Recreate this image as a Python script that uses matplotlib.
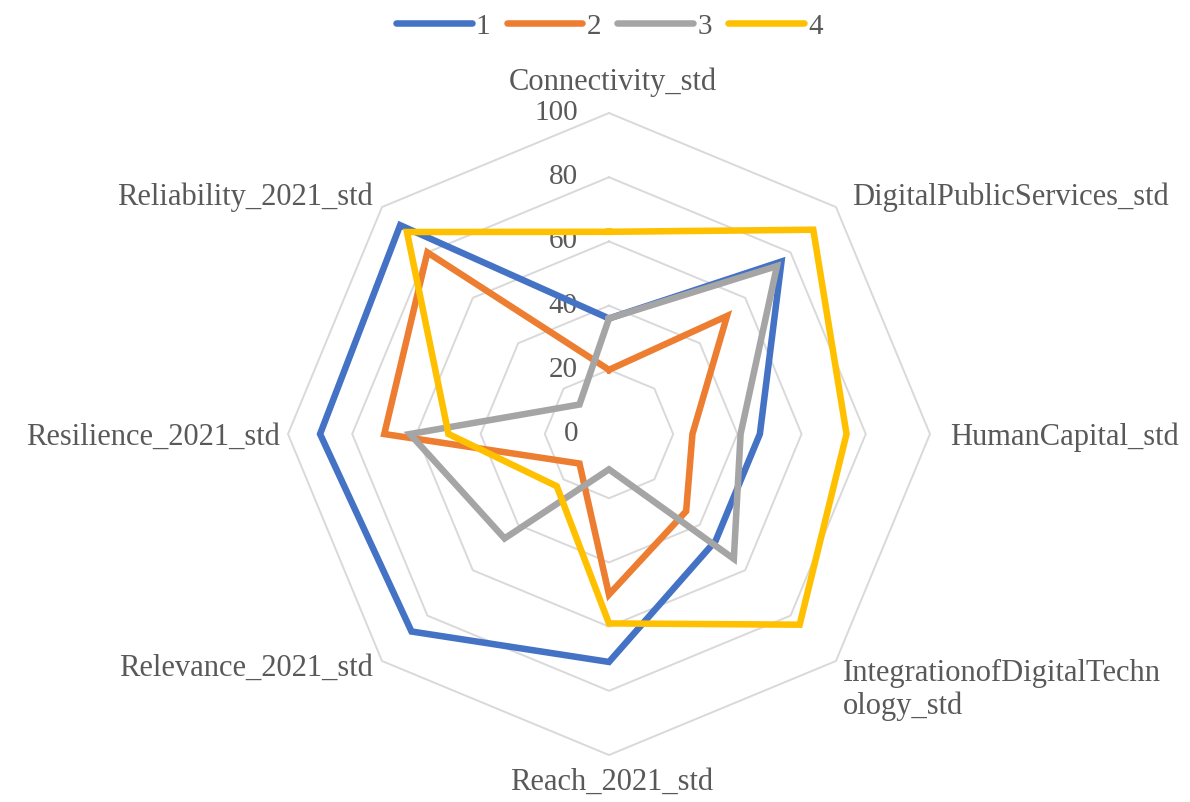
import numpy as np
import matplotlib
matplotlib.use("Agg")
import matplotlib.pyplot as plt
from matplotlib.lines import Line2D

# categories clockwise from the top
categories = [
    "Connectivity_std",
    "DigitalPublicServices_std",
    "HumanCapital_std",
    "IntegrationofDigitalTechn\nology_std",
    "Reach_2021_std",
    "Relevance_2021_std",
    "Resilience_2021_std",
    "Reliability_2021_std",
]
series_names = ["1", "2", "3", "4"]
s1 = [36, 76, 47, 47, 71, 87, 90, 92]
s2 = [20, 52, 26, 34, 50, 13, 70, 80]
s3 = [36, 74, 41, 55, 11, 46, 62, 13]
s4 = [63, 90, 74, 84, 59, 23, 50, 89]
r_ticks = [0, 20, 40, 60, 80, 100]

colors = ["#4472C4", "#ED7D31", "#A5A5A5", "#FFC000"]
text_color = "#595959"
grid_color = "#D9D9D9"

plt.rcParams["font.family"] = ["Liberation Serif", "DejaVu Serif"]

fig = plt.figure(figsize=(11.9, 8.03), dpi=100)
ax = fig.add_axes([0.242, 0.0585, 0.5395, 0.7995], projection="polar")
ax.set_theta_zero_location("N")
ax.set_theta_direction(-1)
ax.set_ylim(0, 100)
ax.grid(False)
ax.spines["polar"].set_visible(False)
ax.set_xticks([])
ax.set_yticks([])
ax.patch.set_alpha(0)

n = len(categories)
angles = np.linspace(0, 2 * np.pi, n, endpoint=False)
closed = np.concatenate([angles, angles[:1]])

# octagon gridlines
for r in r_ticks[1:]:
    ax.plot(closed, [r] * (n + 1), color=grid_color, lw=1.4, zorder=1, clip_on=False)

for vals, c in zip([s1, s2, s3, s4], colors):
    ax.plot(closed, list(vals) + [vals[0]], color=c, lw=4.7,
            solid_joinstyle="miter", zorder=3, clip_on=False)

# radial tick labels, left of the vertical axis
for r in r_ticks:
    ax.annotate(str(r), xy=(0, r), xytext=(-31, 1), textcoords="offset pixels",
                ha="right", va="center", fontsize=21, color=text_color, zorder=2)

# category labels: (ha, va, dx, dy) in pixels from the outer vertex
label_pos = [
    ("center", "center", 4, 32),
    ("left", "center", 16, 11),
    ("left", "center", 20, -2),
    ("left", "center", 7, -28),
    ("center", "center", 3, -26),
    ("right", "center", -9, -6),
    ("right", "center", -8, -2),
    ("right", "center", -9, 11),
]
for ang, lab, (ha, va, dx, dy) in zip(angles, categories, label_pos):
    ax.annotate(lab, xy=(ang, 100), xytext=(dx, dy), textcoords="offset pixels",
                ha=ha, va=va, fontsize=22, color=text_color,
                linespacing=1.15, annotation_clip=False)

handles = [Line2D([0], [0], color=c, lw=4.7, solid_capstyle="round") for c in colors]
fig.legend(handles, series_names, loc="upper center", bbox_to_anchor=(0.512, 1.016),
           ncol=4, frameon=False, fontsize=21, labelcolor=text_color,
           handlelength=2.6, handletextpad=0.15, columnspacing=0.55)

fig.savefig("out.png", dpi=100)
